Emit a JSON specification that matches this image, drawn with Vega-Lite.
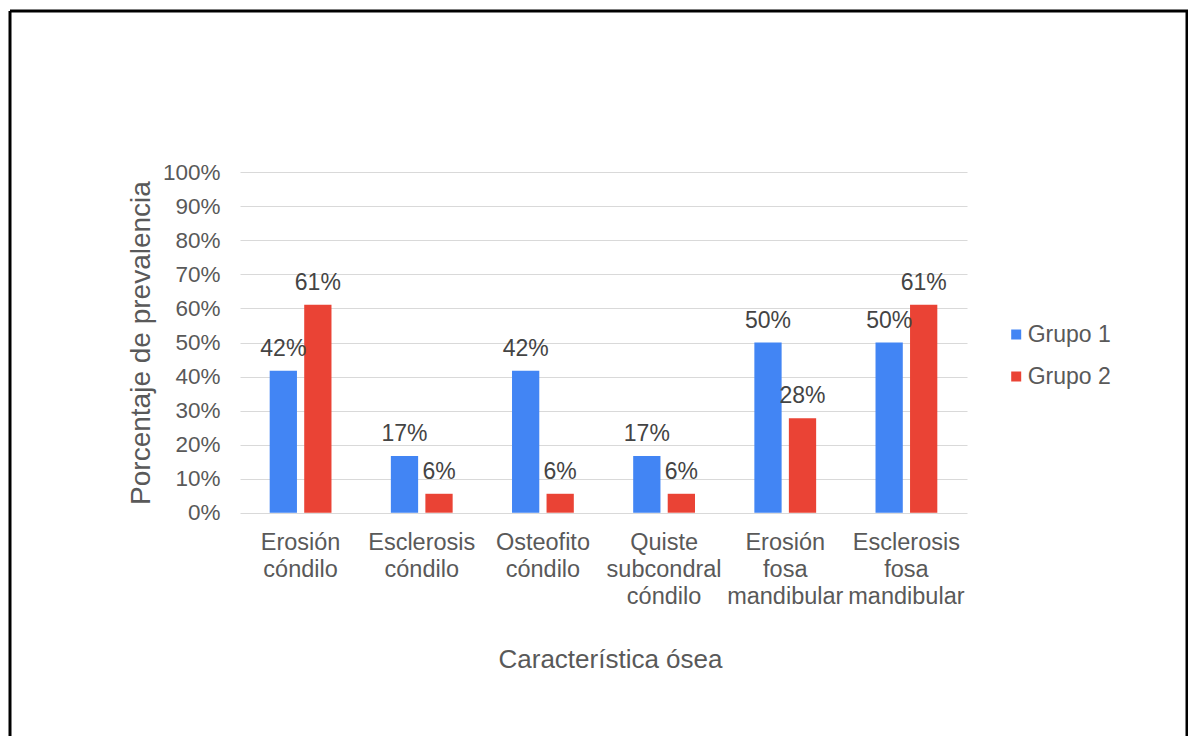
{
  "$schema": "https://vega.github.io/schema/vega-lite/v6.json",
  "width": 1177,
  "height": 725,
  "autosize": "none",
  "padding": {"left": 10, "top": 11, "right": 1, "bottom": 0},
  "background": "white",
  "config": {
    "font": "Liberation Sans",
    "view": {"stroke": "black", "strokeWidth": 3, "strokeDash": [1902, 1177, 725, 0]}
  },
  "data": {
    "values": [
      {"caracteristica": "Erosión cóndilo", "grupo": "Grupo 1", "prevalencia": 0.4167},
      {"caracteristica": "Erosión cóndilo", "grupo": "Grupo 2", "prevalencia": 0.6111},
      {"caracteristica": "Esclerosis cóndilo", "grupo": "Grupo 1", "prevalencia": 0.1667},
      {"caracteristica": "Esclerosis cóndilo", "grupo": "Grupo 2", "prevalencia": 0.0556},
      {"caracteristica": "Osteofito cóndilo", "grupo": "Grupo 1", "prevalencia": 0.4167},
      {"caracteristica": "Osteofito cóndilo", "grupo": "Grupo 2", "prevalencia": 0.0556},
      {"caracteristica": "Quiste subcondral cóndilo", "grupo": "Grupo 1", "prevalencia": 0.1667},
      {"caracteristica": "Quiste subcondral cóndilo", "grupo": "Grupo 2", "prevalencia": 0.0556},
      {"caracteristica": "Erosión fosa mandibular", "grupo": "Grupo 1", "prevalencia": 0.5},
      {"caracteristica": "Erosión fosa mandibular", "grupo": "Grupo 2", "prevalencia": 0.2778},
      {"caracteristica": "Esclerosis fosa mandibular", "grupo": "Grupo 1", "prevalencia": 0.5},
      {"caracteristica": "Esclerosis fosa mandibular", "grupo": "Grupo 2", "prevalencia": 0.6111}
    ]
  },
  "encoding": {
    "x": {
      "field": "caracteristica",
      "type": "nominal",
      "sort": null,
      "scale": {"range": [230, 957], "paddingInner": 0.49, "paddingOuter": 0.245},
      "axis": {
        "title": "Característica ósea",
        "offset": -223.3,
        "domain": false,
        "ticks": false,
        "grid": false,
        "labelAngle": 0,
        "labelExpr": "split(datum.label, ' ')",
        "labelLineHeight": 27,
        "labelPadding": 18,
        "labelFontSize": 23.5,
        "labelColor": "#595959",
        "labelOverlap": false,
        "labelBound": false,
        "labelFlush": false,
        "titleFontSize": 26,
        "titleFontWeight": "normal",
        "titleColor": "#595959",
        "titleX": 600,
        "titleY": 147,
        "titleAlign": "center",
        "titleBaseline": "middle"
      }
    },
    "xOffset": {"field": "grupo", "type": "nominal", "scale": {"paddingInner": 0.21}},
    "y": {
      "field": "prevalencia",
      "type": "quantitative",
      "scale": {"domain": [0, 1], "range": [501.7, 161.3], "nice": false},
      "axis": {
        "title": "Porcentaje  de prevalencia",
        "values": [0, 0.1, 0.2, 0.3, 0.4, 0.5, 0.6, 0.7, 0.8, 0.9, 1],
        "format": ".0%",
        "offset": -230,
        "domain": false,
        "ticks": false,
        "tickSize": 0,
        "labelPadding": 20,
        "labelFontSize": 22.5,
        "labelColor": "#595959",
        "gridColor": "#d9d9d9",
        "gridWidth": 1,
        "titleFontSize": 28,
        "titleFontWeight": "normal",
        "titleColor": "#595959",
        "titleX": -99,
        "titleY": 331.5,
        "titleAngle": 270,
        "titleAlign": "center",
        "titleBaseline": "middle"
      }
    }
  },
  "layer": [
    {
      "mark": {"type": "bar"},
      "encoding": {
        "color": {
          "field": "grupo",
          "type": "nominal",
          "scale": {"range": ["#4285F4", "#EA4335"]},
          "legend": {
            "title": null,
            "orient": "none",
            "legendX": 994.7,
            "legendY": 312,
            "padding": 0,
            "symbolType": "square",
            "symbolSize": 100,
            "symbolStrokeWidth": 0,
            "labelFontSize": 23,
            "labelColor": "#595959",
            "labelOffset": 0,
            "rowPadding": 18
          }
        }
      }
    },
    {
      "mark": {"type": "text", "dy": -15, "baseline": "alphabetic", "align": "center", "fontSize": 23, "color": "#444444"},
      "encoding": {
        "text": {"field": "prevalencia", "type": "quantitative", "format": ".0%"}
      }
    }
  ]
}
